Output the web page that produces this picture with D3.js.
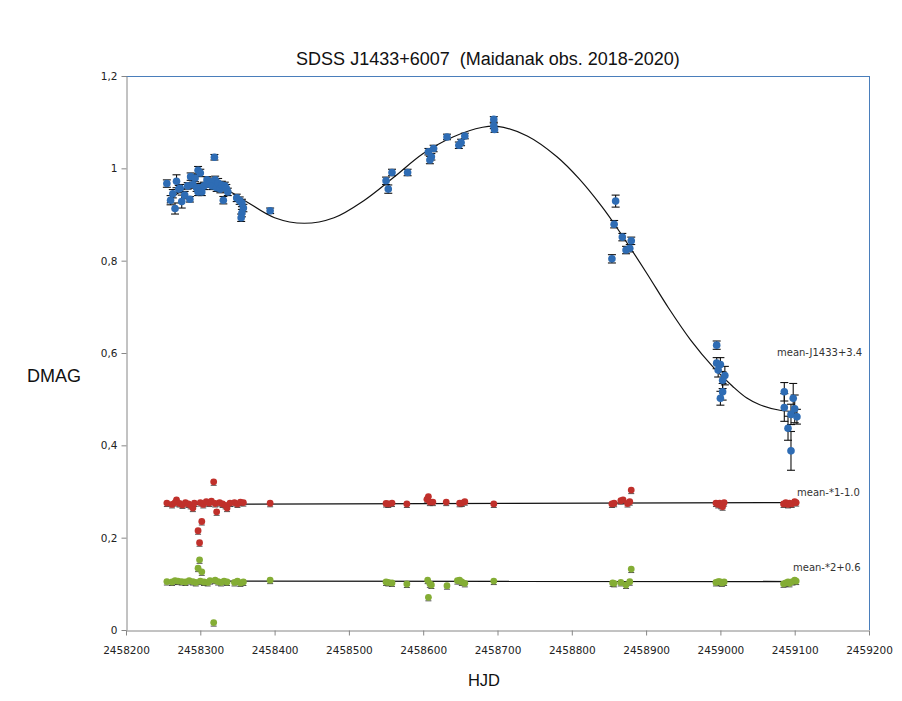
<!DOCTYPE html>
<html>
<head>
<meta charset="utf-8">
<script src="https://cdn.jsdelivr.net/npm/d3@7"></script>
<style>
  html, body { margin: 0; padding: 0; background: #ffffff; }
  svg { display: block; }
</style>
</head>
<body>
<svg id="chart" width="902" height="701"></svg>
<script>
// Light curve of SDSS J1433+6007 with two comparison stars (HJD, DMAG, error)
const titleText = "SDSS J1433+6007  (Maidanak obs. 2018-2020)";
const xTicks = [2458200, 2458300, 2458400, 2458500, 2458600, 2458700, 2458800, 2458900, 2459000, 2459100, 2459200];
const yTicks = [0, 0.2, 0.4, 0.6, 0.8, 1.0, 1.2];

// quasar: mean-J1433+3.4
const quasar = [
  [2458255, 0.967, 0.008], [2458260, 0.931, 0.010], [2458263, 0.945, 0.009], [2458266, 0.913, 0.012],
  [2458268, 0.972, 0.014], [2458271, 0.955, 0.008], [2458273, 0.957, 0.008], [2458275, 0.928, 0.014],
  [2458279, 0.942, 0.008], [2458283, 0.962, 0.007], [2458286, 0.933, 0.006], [2458287, 0.982, 0.008],
  [2458290, 0.965, 0.008], [2458293, 0.979, 0.008], [2458295, 0.958, 0.008], [2458297, 0.996, 0.008],
  [2458297, 0.949, 0.008], [2458299, 0.958, 0.009], [2458300, 0.990, 0.008], [2458302, 0.949, 0.008],
  [2458305, 0.962, 0.008], [2458309, 0.975, 0.007], [2458312, 0.966, 0.007], [2458313, 0.971, 0.008],
  [2458316, 0.962, 0.008], [2458319, 1.024, 0.006], [2458320, 0.975, 0.008], [2458322, 0.958, 0.008],
  [2458324, 0.968, 0.010], [2458327, 0.955, 0.008], [2458329, 0.964, 0.008], [2458331, 0.931, 0.008],
  [2458333, 0.962, 0.008], [2458335, 0.957, 0.008], [2458337, 0.949, 0.008], [2458349, 0.936, 0.008],
  [2458353, 0.930, 0.008], [2458356, 0.925, 0.008], [2458358, 0.914, 0.008], [2458356, 0.903, 0.008],
  [2458355, 0.893, 0.008], [2458394, 0.908, 0.006],
  [2458550, 0.973, 0.008], [2458553, 0.955, 0.009], [2458558, 0.991, 0.007], [2458579, 0.991, 0.007],
  [2458607, 1.036, 0.007], [2458609, 1.018, 0.008], [2458611, 1.025, 0.007], [2458614, 1.043, 0.007],
  [2458632, 1.068, 0.006], [2458648, 1.050, 0.007], [2458651, 1.056, 0.007], [2458656, 1.070, 0.006],
  [2458695, 1.106, 0.006], [2458695, 1.092, 0.006], [2458696, 1.084, 0.006],
  [2458859, 0.929, 0.013], [2458857, 0.879, 0.008], [2458868, 0.851, 0.008], [2458880, 0.843, 0.008],
  [2458873, 0.823, 0.008], [2458878, 0.827, 0.008], [2458854, 0.804, 0.009],
  [2458995, 0.617, 0.009], [2458995, 0.578, 0.012], [2459000, 0.575, 0.015], [2458997, 0.563, 0.015],
  [2459003, 0.541, 0.018], [2459006, 0.551, 0.020], [2459003, 0.516, 0.018], [2459000, 0.502, 0.015],
  [2459086, 0.516, 0.020], [2459086, 0.482, 0.030], [2459098, 0.502, 0.032], [2459100, 0.479, 0.030],
  [2459095, 0.467, 0.022], [2459103, 0.462, 0.016], [2459091, 0.437, 0.026], [2459095, 0.388, 0.042]
];

// comparison star 1: mean-*1-1.0
const star1 = [
  [2458255, 0.275], [2458262, 0.272], [2458266, 0.276], [2458268, 0.282], [2458272, 0.274], [2458276, 0.271],
  [2458280, 0.276], [2458284, 0.273], [2458287, 0.270], [2458290, 0.264], [2458292, 0.275], [2458297, 0.215],
  [2458299, 0.189], [2458302, 0.235], [2458300, 0.276], [2458304, 0.272], [2458308, 0.278], [2458312, 0.275],
  [2458315, 0.279], [2458318, 0.321], [2458320, 0.274], [2458322, 0.256], [2458326, 0.276], [2458330, 0.273],
  [2458334, 0.270], [2458336, 0.264], [2458340, 0.275], [2458346, 0.276], [2458350, 0.273], [2458354, 0.277],
  [2458358, 0.276], [2458394, 0.2745], [2458550, 0.274], [2458553, 0.273], [2458558, 0.275], [2458578, 0.273],
  [2458605, 0.283], [2458607, 0.289], [2458609, 0.277], [2458613, 0.277], [2458631, 0.277], [2458649, 0.2745],
  [2458652, 0.275], [2458656, 0.278], [2458695, 0.273], [2458854, 0.273], [2458857, 0.2745], [2458866, 0.280],
  [2458869, 0.282], [2458875, 0.274], [2458878, 0.278], [2458880, 0.303], [2458994, 0.275], [2458997, 0.272],
  [2458999, 0.2745], [2459001, 0.270], [2459003, 0.267], [2459005, 0.276], [2459085, 0.273], [2459088, 0.276],
  [2459091, 0.272], [2459093, 0.2745], [2459096, 0.273], [2459100, 0.278], [2459102, 0.276]
];

// comparison star 2: mean-*2+0.6
const star2 = [
  [2458255, 0.105], [2458262, 0.104], [2458266, 0.107], [2458270, 0.106], [2458275, 0.105], [2458280, 0.104],
  [2458285, 0.107], [2458290, 0.105], [2458294, 0.103], [2458297, 0.134], [2458299, 0.152], [2458302, 0.126],
  [2458300, 0.106], [2458305, 0.104], [2458310, 0.103], [2458313, 0.107], [2458318, 0.016], [2458320, 0.108],
  [2458324, 0.105], [2458328, 0.103], [2458332, 0.106], [2458336, 0.104], [2458346, 0.103], [2458350, 0.106],
  [2458354, 0.102], [2458358, 0.104], [2458394, 0.108], [2458550, 0.104], [2458553, 0.103], [2458558, 0.102],
  [2458578, 0.0996], [2458606, 0.108], [2458607, 0.0708], [2458609, 0.100], [2458611, 0.0975], [2458632, 0.096],
  [2458646, 0.107], [2458649, 0.108], [2458652, 0.104], [2458656, 0.101], [2458695, 0.106], [2458855, 0.102],
  [2458857, 0.101], [2458866, 0.103], [2458873, 0.0975], [2458878, 0.1046], [2458880, 0.132], [2458994, 0.103],
  [2458997, 0.105], [2458999, 0.1046], [2459002, 0.102], [2459005, 0.104], [2459085, 0.100], [2459088, 0.102],
  [2459091, 0.104], [2459093, 0.101], [2459097, 0.105], [2459100, 0.108], [2459102, 0.106]
];

// smooth model curve through the quasar light curve
const quasarFit = [
  [2458255, 0.924], [2458275, 0.952], [2458300, 0.968], [2458330, 0.958], [2458360, 0.930],
  [2458400, 0.893], [2458440, 0.881], [2458480, 0.893], [2458520, 0.930], [2458560, 0.980],
  [2458600, 1.032], [2458640, 1.068], [2458680, 1.089], [2458700, 1.091], [2458740, 1.070],
  [2458780, 1.025], [2458810, 0.977], [2458840, 0.918], [2458860, 0.873], [2458900, 0.775],
  [2458930, 0.698], [2458960, 0.628], [2458990, 0.570], [2459017, 0.527], [2459035, 0.503],
  [2459053, 0.488], [2459080, 0.476], [2459102, 0.473]
];
// linear trends for the comparison stars
const star1Fit = [[2458255, 0.272], [2459102, 0.276]];
const star2Fit = [[2458255, 0.106], [2459102, 0.105]];

const seriesLabels = ["mean-J1433+3.4", "mean-*1-1.0", "mean-*2+0.6"];

const svg = d3.select("#chart");
const m = { left: 126, right: 869, top: 76, bottom: 630 };

const x = d3.scaleLinear().domain([2458200, 2459200]).range([m.left, m.right]);
const y = d3.scaleLinear().domain([0, 1.2]).range([m.bottom, m.top]);

const axisGrey = "#868686";
const frameBlue = "#4a7ebb";

// frame: top and right borders
svg.append("line").attr("x1", m.left).attr("x2", m.right).attr("y1", m.top + 0.5).attr("y2", m.top + 0.5)
  .attr("stroke", frameBlue).attr("stroke-width", 1);
svg.append("line").attr("x1", m.right + 0.5).attr("x2", m.right + 0.5).attr("y1", m.top).attr("y2", m.bottom)
  .attr("stroke", frameBlue).attr("stroke-width", 1);

// axes
const fmtY = d => String(+d.toFixed(1)).replace(".", ",");
const yAxis = svg.append("g").attr("transform", `translate(${m.left + 0.5},0)`)
  .call(d3.axisLeft(y).tickValues(yTicks).tickFormat(fmtY).tickSize(5).tickSizeOuter(0).tickPadding(4));
const xAxis = svg.append("g").attr("transform", `translate(0,${m.bottom + 0.5})`)
  .call(d3.axisBottom(x).tickValues(xTicks).tickFormat(d3.format("d")).tickSize(5).tickSizeOuter(0).tickPadding(11));
[yAxis, xAxis].forEach(g => {
  g.selectAll("path, line").attr("stroke", axisGrey);
  g.selectAll("text").attr("fill", "#222").style("font-family", "'DejaVu Sans', Verdana, sans-serif").style("font-size", "10.5px");
});

// titles
svg.append("text").attr("x", 488).attr("y", 65).attr("text-anchor", "middle")
  .style("font-family", "'Liberation Sans', Arial, sans-serif").style("font-size", "18px").style("white-space", "pre")
  .attr("fill", "#111").text(titleText);
svg.append("text").attr("x", 27).attr("y", 382)
  .style("font-family", "'Liberation Sans', Arial, sans-serif").style("font-size", "18px")
  .attr("fill", "#111").text("DMAG");
svg.append("text").attr("x", 484).attr("y", 686).attr("text-anchor", "middle")
  .style("font-family", "'Liberation Sans', Arial, sans-serif").style("font-size", "16.5px")
  .attr("fill", "#111").text("HJD");

const line = d3.line().x(d => x(d[0])).y(d => y(d[1]));
const smooth = d3.line().x(d => x(d[0])).y(d => y(d[1])).curve(d3.curveCatmullRom.alpha(0.5));

// comparison stars
function drawStar(data, fit, color) {
  const g = svg.append("g");
  g.append("path").datum(fit).attr("d", line).attr("fill", "none").attr("stroke", "#111").attr("stroke-width", 1.3);
  g.selectAll("line.err").data(data).join("line")
    .attr("x1", d => x(d[0]) - 3).attr("x2", d => x(d[0]) + 3)
    .attr("y1", d => y(d[1]) + 3.5).attr("y2", d => y(d[1]) + 3.5)
    .attr("stroke", "#222").attr("stroke-width", 0.8);
  g.selectAll("circle").data(data).join("circle")
    .attr("cx", d => x(d[0])).attr("cy", d => y(d[1])).attr("r", 3.4).attr("fill", color);
}
drawStar(star1, star1Fit, "#c0302b");
drawStar(star2, star2Fit, "#84ad35");

// quasar model curve
svg.append("path").datum(quasarFit).attr("d", smooth).attr("fill", "none").attr("stroke", "#111").attr("stroke-width", 1.2);

// quasar error bars
const eg = svg.append("g").attr("stroke", "#111").attr("stroke-width", 1.1);
quasar.forEach(d => {
  const cx = x(d[0]), y0 = y(d[1] - d[2]), y1 = y(d[1] + d[2]);
  eg.append("line").attr("x1", cx).attr("x2", cx).attr("y1", y0).attr("y2", y1);
  eg.append("line").attr("x1", cx - 4).attr("x2", cx + 4).attr("y1", y0).attr("y2", y0);
  eg.append("line").attr("x1", cx - 4).attr("x2", cx + 4).attr("y1", y1).attr("y2", y1);
});
svg.append("g").selectAll("circle").data(quasar).join("circle")
  .attr("cx", d => x(d[0])).attr("cy", d => y(d[1])).attr("r", 3.8).attr("fill", "#2e6cb4");

// series labels
const labelStyle = sel => sel.style("font-family", "'DejaVu Sans', Verdana, sans-serif").style("font-size", "10px").attr("fill", "#333");
labelStyle(svg.append("text").attr("x", 777).attr("y", 356).text(seriesLabels[0]));
labelStyle(svg.append("text").attr("x", 797).attr("y", 496).text(seriesLabels[1]));
labelStyle(svg.append("text").attr("x", 793).attr("y", 571).text(seriesLabels[2]));
</script>
</body>
</html>
